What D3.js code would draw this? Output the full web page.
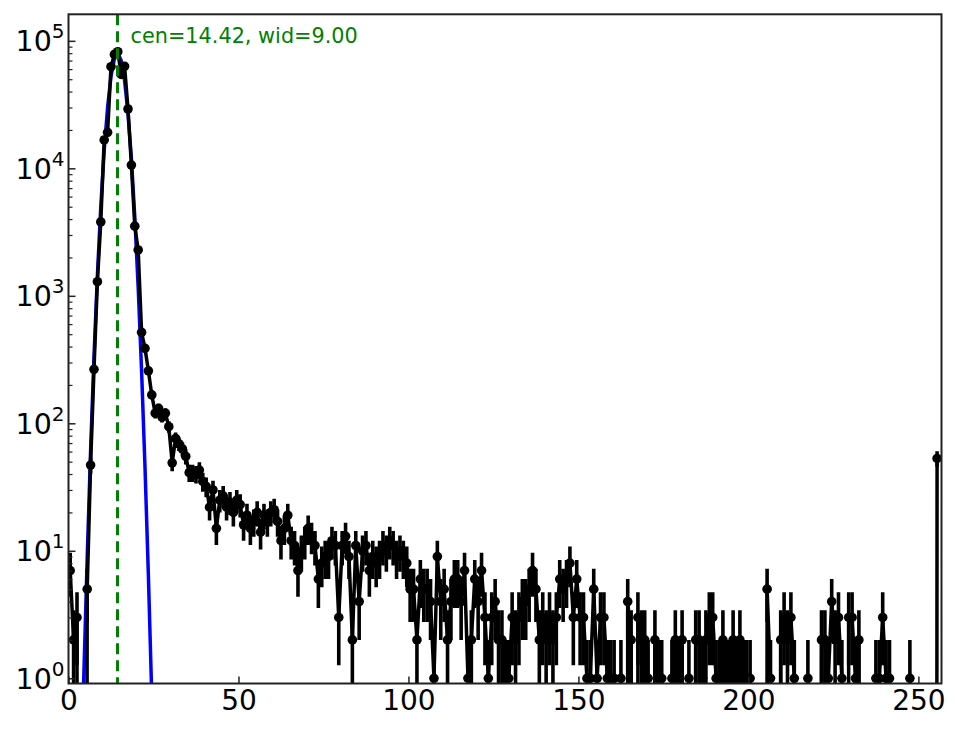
<!DOCTYPE html>
<html><head><meta charset="utf-8">
<script src="https://cdn.jsdelivr.net/npm/d3@7"></script>
<style>
body{margin:0;background:#fff}
svg{display:block}
text{font-family:"DejaVu Sans",sans-serif}
</style>
</head><body>
<svg id="chart" width="964" height="729"></svg>
<script>
// histogram counts per bin (bin i spans [i, i+1])
const counts = [
  7, 2, 3, 0, 0, 5, 47, 265, 1290, 3800,
  16700, 19150, 62700, 78300, 82200, 54600, 63100, 29200, 10600, 3520,
  2290, 517, 387, 258, 167, 120, 131, 112, 120, 94,
  49, 76, 69, 63, 55, 41, 41, 40, 43, 35,
  32, 22, 30, 15, 25, 27, 22, 24, 20, 25,
  23, 16, 19, 15, 17, 20, 14, 19, 17, 20,
  21, 17, 12, 15, 19, 12, 11, 7, 10, 12,
  15, 13, 11, 6, 8, 9, 9, 12, 11, 3,
  11, 13, 9, 2, 11, 4, 10, 11, 7, 9,
  8, 9, 11, 10, 12, 11, 9, 10, 9, 8,
  5, 5, 2, 6, 5, 5, 4, 1, 9, 4,
  5, 2, 4, 6, 6, 4, 7, 1, 2, 6,
  4, 7, 3, 1, 3, 4, 2, 2, 1, 1,
  3, 2, 3, 4, 4, 5, 7, 5, 2, 3,
  2, 3, 2, 3, 6, 5, 6, 8, 3, 6,
  3, 3, 1, 1, 5, 1, 3, 3, 1, 1,
  1, 0, 1, 0, 4, 2, 0, 3, 2, 2,
  1, 0, 2, 1, 1, 0, 0, 1, 2, 1,
  2, 0, 1, 0, 2, 2, 1, 2, 3, 3,
  1, 1, 2, 1, 1, 2, 1, 2, 1, 1,
  1, 0, 0, 0, 0, 5, 1, 0, 0, 2,
  3, 2, 3, 1, 0, 0, 0, 1, 0, 0,
  0, 2, 2, 1, 4, 2, 3, 1, 0, 3,
  3, 1, 2, 0, 0, 0, 0, 1, 1, 3,
  1, 1, 0, 0, 0, 0, 0, 1, 0, 0,
  0, 0, 0, 0, 0, 53
];
// gaussian fit curve, sampled at bin centres
const fitX = [3.5, 4.5, 5.5, 6.5, 7.5, 8.5, 9.5, 10.5, 11.5, 12.5, 13.5, 14.5,
              15.5, 16.5, 17.5, 18.5, 19.5, 20.5, 21.5, 22.5, 23.5, 24.5, 25.5];
const fitY = [0.094, 1.03, 8.8, 61, 334, 1450, 5020, 13800, 30100, 52500, 72600, 80000,
              70000, 48700, 27000, 11900, 4170, 1160, 258, 45.6, 6.4, 0.71, 0.063];
const fitCenter = 14.42;
const fitLabel = "cen=14.42, wid=9.00";
const xTicks = [0, 50, 100, 150, 200, 250];
const yTickExps = [0, 1, 2, 3, 4, 5];

const L = 68.5, R = 941.5, T = 14.3, B = 683.5;
const TINY = 1e-30;
const svg = d3.select("#chart");
const x = d3.scaleLinear().domain([0, 256.8]).range([L, R]);
const y = d3.scaleLog().domain([0.91, 161500]).range([B, T]);

svg.append("defs").append("clipPath").attr("id", "clip")
  .append("rect").attr("x", L).attr("y", T).attr("width", R - L).attr("height", B - T);

const plot = svg.append("g").attr("clip-path", "url(#clip)");
const pts = counts.map((c, i) => ({xv: i + 0.5, c}));

// fit line
plot.append("path")
  .datum(fitX.map((xv, i) => [xv, fitY[i]]))
  .attr("fill", "none").attr("stroke", "#0000ff").attr("stroke-width", 3.5)
  .attr("stroke-linejoin", "round")
  .attr("d", d3.line().x(d => x(d[0])).y(d => y(Math.max(d[1], TINY))));

// error bars
plot.append("g").selectAll("line").data(pts.filter(p => p.c > 0)).join("line")
  .attr("x1", d => x(d.xv)).attr("x2", d => x(d.xv))
  .attr("y1", d => y(Math.max(d.c - Math.sqrt(d.c), TINY)))
  .attr("y2", d => y(d.c + Math.sqrt(d.c)))
  .attr("stroke", "#000").attr("stroke-width", 3.6);

// data line
plot.append("path").datum(pts)
  .attr("fill", "none").attr("stroke", "#000").attr("stroke-width", 3.5)
  .attr("stroke-linejoin", "round")
  .attr("d", d3.line().x(d => x(d.xv)).y(d => y(Math.max(d.c, TINY))));

// markers
plot.append("g").selectAll("circle").data(pts.filter(p => p.c > 0)).join("circle")
  .attr("cx", d => x(d.xv)).attr("cy", d => y(d.c)).attr("r", 4.8).attr("fill", "#000");

// centre line
plot.append("line")
  .attr("x1", x(fitCenter)).attr("x2", x(fitCenter)).attr("y1", T).attr("y2", B)
  .attr("stroke", "#008000").attr("stroke-width", 3).attr("stroke-dasharray", "11,6");

svg.append("text").attr("x", 130.5).attr("y", 43.3)
  .attr("font-size", "20.8px").attr("fill", "#008000").text(fitLabel);

// axes
const xAxis = d3.axisBottom(x).tickValues(xTicks).tickSize(-7).tickPadding(7)
  .tickFormat(d3.format("d"));
const gx = svg.append("g").attr("transform", `translate(0,${B})`).call(xAxis);
gx.select(".domain").remove();
gx.selectAll(".tick line").attr("stroke", "#222").attr("stroke-width", 1.5);
gx.selectAll(".tick text").attr("font-size", "28px").attr("fill", "#000")
  .attr("font-family", "DejaVu Sans");

const majors = yTickExps.map(e => Math.pow(10, e));
const minors = [];
yTickExps.forEach(e => { for (let k = 2; k <= 9; k++) { const v = k * Math.pow(10, e); if (v < 161500) minors.push(v); } });

const gyMinor = svg.append("g").attr("transform", `translate(${L},0)`)
  .call(d3.axisLeft(y).tickValues(minors).tickSize(-4).tickFormat(""));
gyMinor.select(".domain").remove();
gyMinor.selectAll(".tick line").attr("stroke", "#222").attr("stroke-width", 1.2);

const gy = svg.append("g").attr("transform", `translate(${L},0)`)
  .call(d3.axisLeft(y).tickValues(majors).tickSize(-7).tickFormat(""));
gy.select(".domain").remove();
gy.selectAll(".tick line").attr("stroke", "#222").attr("stroke-width", 1.5);
gy.selectAll(".tick text").remove();
gy.selectAll(".tick").each(function(d) {
  const t = d3.select(this).append("text")
    .attr("x", -4).attr("y", 10).attr("text-anchor", "end")
    .attr("fill", "#000").attr("font-size", "28.5px").attr("font-family", "DejaVu Sans");
  t.append("tspan").text("10");
  t.append("tspan").attr("dy", -13).attr("font-size", "20px").text(String(Math.round(Math.log10(d))));
});

// frame
svg.append("rect").attr("x", L).attr("y", T).attr("width", R - L).attr("height", B - T)
  .attr("fill", "none").attr("stroke", "#222").attr("stroke-width", 2);
</script>
</body></html>
